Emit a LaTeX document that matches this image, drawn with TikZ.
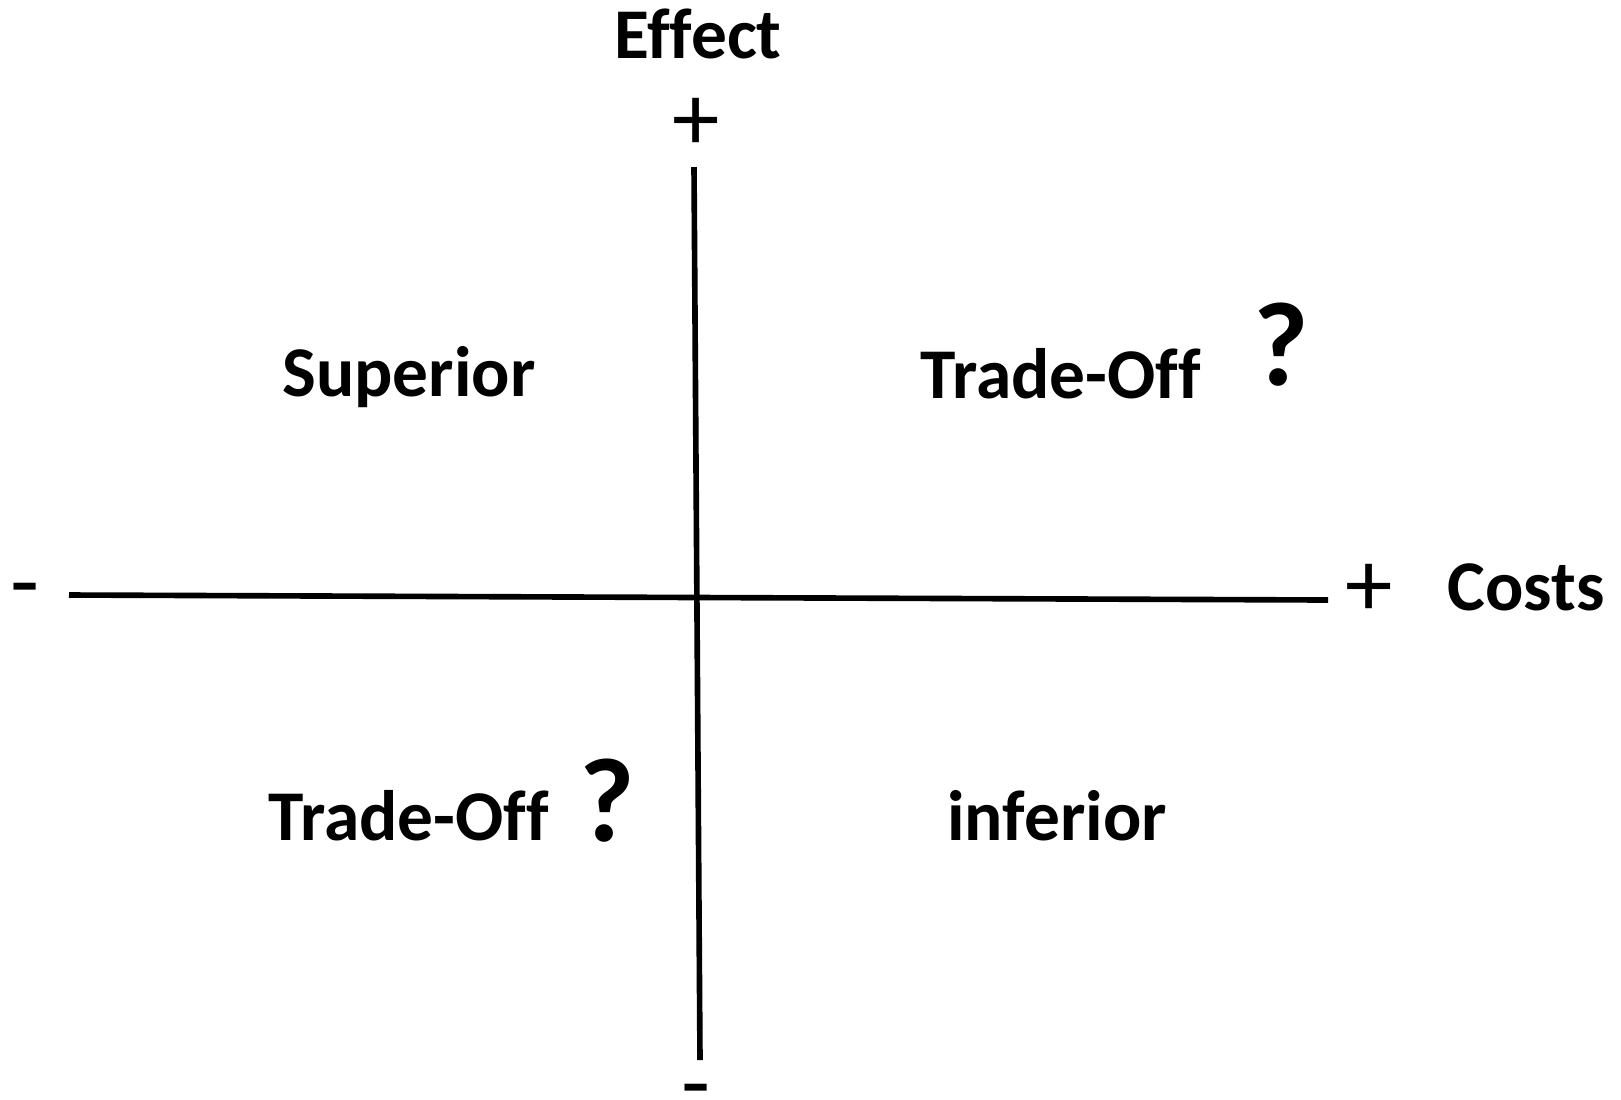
\documentclass[tikz,border=0pt]{standalone}
\usepackage{fontspec}
\setmainfont{Carlito}[Ligatures=CommonOff]
\usepackage{tikz}
\tikzset{
	axisline/.style={black, line width=1.6pt},
	axislabel/.style={font=\bfseries\fontsize{20.3}{24}\selectfont, anchor=base, inner sep=0pt},
	signlabel/.style={font=\fontsize{27}{31}\selectfont, inner sep=0pt},
	quadlabel/.style={font=\bfseries\fontsize{20.3}{24}\selectfont, anchor=base, inner sep=0pt},
	qmark/.style={font=\bfseries\fontsize{34}{40}\selectfont, anchor=base, inner sep=0pt},
}

\begin{document}
\begin{tikzpicture}[x=0.01cm, y=-0.01cm]
		\useasboundingbox (0,0) rectangle (1621,1099);
		
		% axis ends
		\coordinate (xlo) at (69,595);
		\coordinate (xhi) at (1328,600);
		\coordinate (ylo) at (700,1060);
		\coordinate (yhi) at (694,167);
		\draw[axisline] (xlo) -- (xhi);
		\draw[axisline] (ylo) -- (yhi);
		
		% axis labels and signs
		\node[axislabel] (effect) at (698,58) {Effect};
		\node[axislabel] (costs) at (1526,610) {Costs};
		\node[signlabel] (yplus) at (696,124) {+};
		\node[signlabel] (yminus) at (696,1099) {-};
		\node[signlabel] (xplus) at (1369,590) {+};
		\node[signlabel] (xminus) at (25,598) {-};
		
		% quadrants
		\node[quadlabel] (superior) at (409,396) {Superior};
		\node[quadlabel] (tradeup) at (1061,398) {Trade-Off};
		\node[qmark] (qup) at (1281,385) {?};
		\node[quadlabel] (tradelow) at (409,840) {Trade-Off};
		\node[qmark] (qlow) at (607,841) {?};
		\node[quadlabel] (inferior) at (1057,840) {inferior};
	\end{tikzpicture}
\end{document}
